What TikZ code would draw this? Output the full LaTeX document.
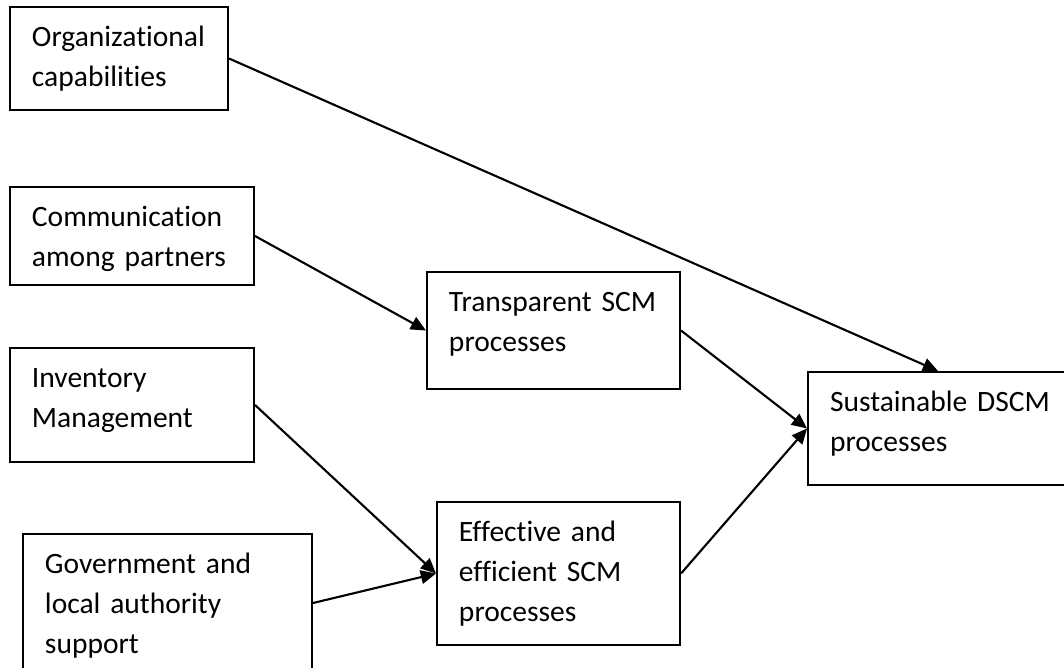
\documentclass[tikz,border=0pt]{standalone}
\usepackage{fontspec}
\setmainfont{Carlito}[Ligatures=NoCommon]
\usetikzlibrary{arrows.meta}

\tikzstyle{box} = [draw=black,line width=1.4pt,anchor=north west,align=left,font=\fontsize{21}{28.45}\selectfont,inner xsep=0.55cm,inner ysep=0pt,text height=0.975cm]
\tikzstyle{link} = [line width=1.5pt,-{Triangle[length=0.38cm,width=0.34cm]}]

\begin{document}
\begin{tikzpicture}[x=0.025cm,y=-0.025cm]
	\useasboundingbox (0,0) rectangle (1064,667);
	\node (org) [box,text width=4.35cm,text depth=1.6cm] at (9,6) {Organizational\\capabilities};
	\node (comm) [box,text width=5cm,text depth=1.475cm] at (9,186) {Communication\\among partners};
	\node (inv) [box,text width=5cm,text depth=1.875cm] at (9,347) {Inventory\\Management};
	\node (gov) [box,text width=6.125cm,text depth=2.475cm] at (22,533) {Government and\\local authority\\support};
	\node (trans) [box,text width=5.225cm,text depth=1.95cm] at (426,271) {Transparent SCM\\processes};
	\node (eff) [box,text width=4.975cm,text depth=2.6cm] at (436,501) {Effective and\\efficient SCM\\processes};
	\node (sust) [box,text width=5.6cm,text depth=1.85cm] at (807,371) {Sustainable DSCM\\processes};
	\draw [link] (org.east) -- ([xshift=-0.1cm]sust.north);
	\draw [link] (comm.east) -- (trans.west);
	\draw [link] (inv.east) -- (eff.west);
	\draw [link] (gov.east) -- (eff.west);
	\draw [link] (trans.east) -- (sust.west);
	\draw [link] (eff.east) -- (sust.west);
\end{tikzpicture}
\end{document}
